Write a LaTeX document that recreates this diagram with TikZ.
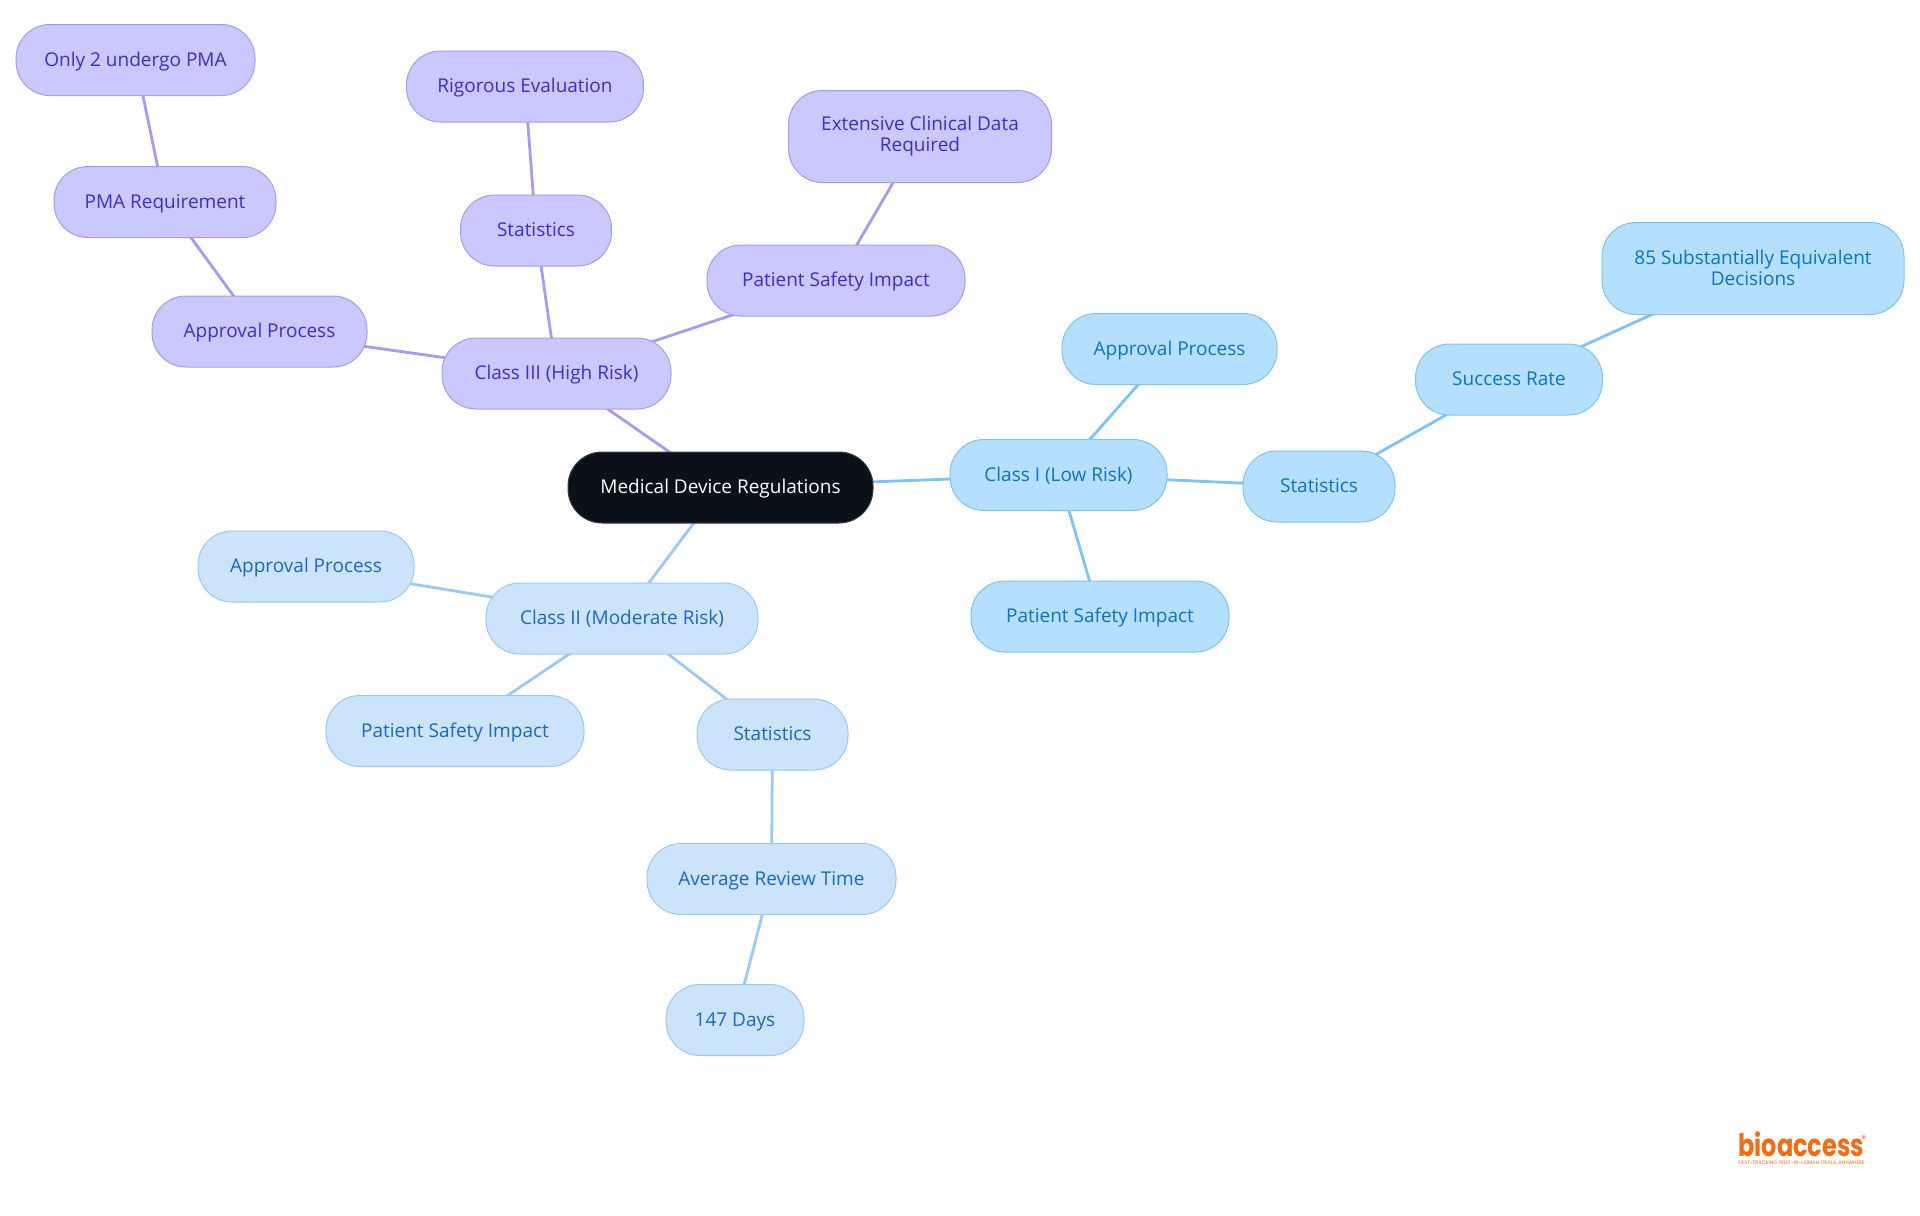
\documentclass[tikz,border=0pt]{standalone}
\usepackage{graphicx}
\usepackage{fontspec}
\setmainfont{Open Sans}
\newfontfamily\logofont{Poppins}
\usetikzlibrary{backgrounds}
\definecolor{rootfill}{HTML}{0B1119}
\definecolor{rootline}{HTML}{3A3F46}
\definecolor{purplefill}{HTML}{C9C9FF}
\definecolor{purpleline}{HTML}{A19DF3}
\definecolor{purpletext}{HTML}{3C2FC9}
\definecolor{palefill}{HTML}{CCE3FC}
\definecolor{paleline}{HTML}{9CC8F4}
\definecolor{paletext}{HTML}{1A68C4}
\definecolor{skyfill}{HTML}{B4DFFF}
\definecolor{skyline}{HTML}{7FC3F2}
\definecolor{skytext}{HTML}{0B74C4}
\definecolor{logoorange}{HTML}{F36B12}
\begin{document}
\begin{tikzpicture}[x=0.5pt,y=-0.5pt,
box/.style={draw,line width=0.5pt,rounded corners=17pt,minimum height=35.5pt,inner sep=0pt,align=center,text height=8.7pt,text depth=2.5pt,font=\fontsize{9.5}{10.5}\selectfont},
twoline/.style={minimum height=46pt,text height=16.8pt,text depth=},
rootbox/.style={box,fill=rootfill,draw=rootline,text=white},
purplebox/.style={box,fill=purplefill,draw=purpleline,text=purpletext},
palebox/.style={box,fill=palefill,draw=paleline,text=paletext},
skybox/.style={box,fill=skyfill,draw=skyline,text=skytext},
purplelink/.style={draw=purpleline,line width=1.4pt},
palelink/.style={draw=paleline,line width=1.4pt},
skylink/.style={draw=skyline,line width=1.4pt},
logotext/.style={anchor=base west,inner sep=0pt,text=logoorange}]
\useasboundingbox (0,0) rectangle (1920,1215);
\node[rootbox,minimum width=152.5pt] at (720.5,487.5) (root) {Medical Device Regulations};
\node[skybox,minimum width=108.5pt] at (1058.5,475) (classone) {Class I (Low Risk)};
\node[skybox,minimum width=76pt] at (1319,486.5) (onestats) {Statistics};
\node[skybox,minimum width=129pt] at (1100,616.5) (onesafety) {Patient Safety Impact};
\node[skybox,minimum width=107.5pt] at (1169.5,349) (oneapproval) {Approval Process};
\node[skybox,minimum width=93.5pt] at (1509,379.5) (onesuccess) {Success Rate};
\node[skybox,twoline,minimum width=151pt] at (1753,268.5) (onedecisions) {85 Substantially Equivalent\\Decisions};
\node[purplebox,minimum width=114.5pt] at (556.5,373.5) (classthree) {Class III (High Risk)};
\node[purplebox,minimum width=107.5pt] at (259.5,331.5) (threeapproval) {Approval Process};
\node[purplebox,minimum width=111pt] at (165,202) (threepma) {PMA Requirement};
\node[purplebox,minimum width=119.5pt] at (135.5,60) (threeonly) {Only 2 undergo PMA};
\node[purplebox,minimum width=75.5pt] at (536,230.5) (threestats) {Statistics};
\node[purplebox,minimum width=118.5pt] at (525,86.5) (threerigorous) {Rigorous Evaluation};
\node[purplebox,minimum width=129pt] at (836,280.5) (threesafety) {Patient Safety Impact};
\node[purplebox,twoline,minimum width=131.5pt] at (920,136.5) (threedata) {Extensive Clinical Data\\Required};
\node[palebox,minimum width=136pt] at (622,618.5) (classtwo) {Class II (Moderate Risk)};
\node[palebox,minimum width=108pt] at (306,566.5) (twoapproval) {Approval Process};
\node[palebox,minimum width=129pt] at (455,731) (twosafety) {Patient Safety Impact};
\node[palebox,minimum width=75.5pt] at (772.5,734.5) (twostats) {Statistics};
\node[palebox,minimum width=124.5pt] at (771.5,879) (tworeview) {Average Review Time};
\node[palebox,minimum width=69pt] at (735,1020) (twodays) {147 Days};
\node[logotext,font=\logofont\bfseries\fontsize{15.5}{15.5}\selectfont] at (1738,1156) (logo) {\scalebox{0.775}[1]{bioaccess}};
\node[logotext,font=\logofont\fontsize{2.5}{2.5}\selectfont] at (1738,1164) (tagline) {FAST-TRACKING FIRST-IN-HUMAN TRIALS, ANYWHERE};
\node[logotext,font=\logofont\fontsize{5}{5}\selectfont] at (1861,1142) (logomark) {®};
\begin{scope}[on background layer]
\draw[skylink] (root.center) to (classone.center);
\draw[skylink] (classone.center) to (onestats.center);
\draw[skylink] (classone.center) to (onesafety.center);
\draw[skylink] (classone.center) to (oneapproval.center);
\draw[skylink] (onestats.center) to (onesuccess.center);
\draw[skylink] (onesuccess.center) to (onedecisions.center);
\draw[purplelink] (root.center) to (classthree.center);
\draw[purplelink] (classthree.center) to (threeapproval.center);
\draw[purplelink] (threeapproval.center) to (threepma.center);
\draw[purplelink] (threepma.center) to (threeonly.center);
\draw[purplelink] (classthree.center) to (threestats.center);
\draw[purplelink] (threestats.center) to (threerigorous.center);
\draw[purplelink] (classthree.center) to (threesafety.center);
\draw[purplelink] (threesafety.center) to (threedata.center);
\draw[palelink] (root.center) to (classtwo.center);
\draw[palelink] (classtwo.center) to (twoapproval.center);
\draw[palelink] (classtwo.center) to (twosafety.center);
\draw[palelink] (classtwo.center) to (twostats.center);
\draw[palelink] (twostats.center) to (tworeview.center);
\draw[palelink] (tworeview.center) to (twodays.center);
\end{scope}
\end{tikzpicture}
\end{document}
